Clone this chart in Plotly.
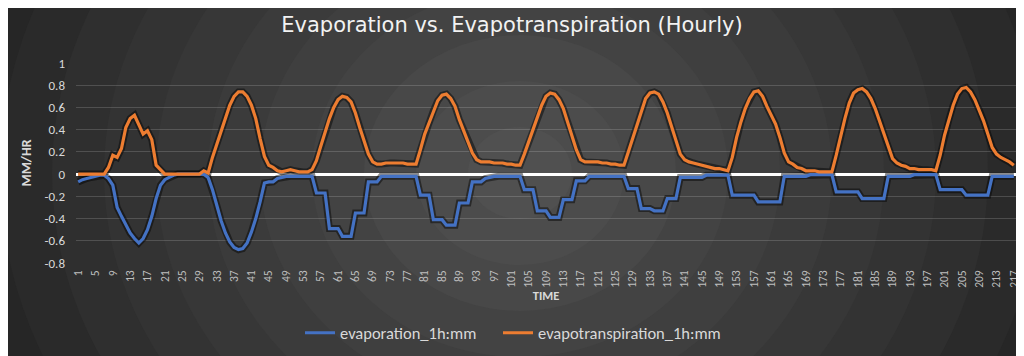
import plotly.graph_objects as go

# ---------------- data ----------------
hours = list(range(1, 218))

evaporation = [
    -0.07, -0.05, -0.04, -0.03, -0.02, -0.01, -0.01, -0.04, -0.10, -0.30,
    -0.38, -0.45, -0.53, -0.58, -0.62, -0.58, -0.50, -0.38, -0.22, -0.10,
    -0.05, -0.03, -0.01, 0, 0, 0, 0, 0, 0, 0,
    -0.03, -0.14, -0.28, -0.42, -0.53, -0.61, -0.66, -0.68, -0.67, -0.62,
    -0.52, -0.40, -0.25, -0.08, -0.07, -0.07, -0.04, -0.03, -0.02, -0.02,
    -0.02, -0.02, -0.02, -0.02, -0.02, -0.17, -0.17, -0.17, -0.49, -0.49,
    -0.49, -0.56, -0.56, -0.56, -0.35, -0.35, -0.35, -0.07, -0.07, -0.07,
    -0.02, -0.02, -0.02, -0.02, -0.02, -0.02, -0.02, -0.02, -0.02, -0.19,
    -0.19, -0.19, -0.41, -0.41, -0.41, -0.46, -0.46, -0.46, -0.26, -0.26,
    -0.26, -0.07, -0.07, -0.07, -0.04, -0.03, -0.02, -0.02, -0.02, -0.02,
    -0.02, -0.02, -0.02, -0.14, -0.14, -0.14, -0.33, -0.33, -0.33, -0.39,
    -0.39, -0.39, -0.23, -0.23, -0.23, -0.06, -0.06, -0.06, -0.02, -0.02,
    -0.02, -0.02, -0.02, -0.02, -0.02, -0.02, -0.02, -0.13, -0.13, -0.13,
    -0.31, -0.31, -0.31, -0.33, -0.33, -0.33, -0.22, -0.22, -0.22, -0.03,
    -0.03, -0.03, -0.03, -0.03, -0.03, -0.01, -0.01, -0.01, -0.01, -0.01,
    -0.01, -0.19, -0.19, -0.19, -0.19, -0.19, -0.19, -0.25, -0.25, -0.25,
    -0.25, -0.25, -0.25, -0.02, -0.02, -0.02, -0.02, -0.02, -0.02, -0.005,
    -0.005, -0.005, -0.005, -0.005, -0.005, -0.16, -0.16, -0.16, -0.16, -0.16,
    -0.16, -0.22, -0.22, -0.22, -0.22, -0.22, -0.22, -0.02, -0.02, -0.02,
    -0.02, -0.02, -0.02, -0.005, -0.005, -0.005, -0.005, -0.005, -0.005, -0.14,
    -0.14, -0.14, -0.14, -0.14, -0.14, -0.19, -0.19, -0.19, -0.19, -0.19,
    -0.19, -0.02, -0.02, -0.02, -0.02, -0.02, -0.02,
]

evapotranspiration = [
    0, 0, 0, 0, 0, 0, 0, 0.06, 0.17, 0.15,
    0.23, 0.42, 0.50, 0.53, 0.45, 0.36, 0.39, 0.31, 0.08, 0.04,
    0, 0, 0, 0, 0, 0, 0, 0, 0, 0.03,
    0.01, 0.15, 0.27, 0.40, 0.52, 0.62, 0.70, 0.74, 0.74, 0.70,
    0.62, 0.50, 0.32, 0.16, 0.08, 0.06, 0.03, 0.02, 0.03, 0.04,
    0.03, 0.02, 0.02, 0.02, 0.04, 0.12, 0.25, 0.38, 0.50, 0.60,
    0.67, 0.70, 0.69, 0.65, 0.55, 0.42, 0.29, 0.18, 0.11, 0.09,
    0.09, 0.10, 0.10, 0.10, 0.10, 0.10, 0.09, 0.09, 0.09, 0.22,
    0.36, 0.46, 0.57, 0.66, 0.71, 0.72, 0.68, 0.61, 0.49, 0.39,
    0.29, 0.19, 0.13, 0.11, 0.11, 0.11, 0.10, 0.10, 0.10, 0.09,
    0.09, 0.08, 0.08, 0.18, 0.29, 0.40, 0.51, 0.62, 0.70, 0.73,
    0.72, 0.67, 0.59, 0.47, 0.35, 0.22, 0.13, 0.11, 0.11, 0.11,
    0.11, 0.10, 0.10, 0.09, 0.09, 0.08, 0.08, 0.20, 0.32, 0.46,
    0.57, 0.68, 0.73, 0.74, 0.72, 0.65, 0.55, 0.42, 0.30, 0.18,
    0.13, 0.11, 0.10, 0.09, 0.08, 0.07, 0.06, 0.05, 0.05, 0.04,
    0.03, 0.15, 0.33, 0.47, 0.59, 0.68, 0.74, 0.75, 0.70, 0.61,
    0.53, 0.45, 0.33, 0.19, 0.11, 0.09, 0.06, 0.05, 0.03, 0.03,
    0.03, 0.02, 0.02, 0.02, 0.02, 0.17, 0.35, 0.50, 0.64, 0.73,
    0.76, 0.77, 0.74, 0.68, 0.59, 0.48, 0.36, 0.24, 0.14, 0.10,
    0.08, 0.07, 0.05, 0.05, 0.04, 0.04, 0.04, 0.04, 0.03, 0.17,
    0.35, 0.49, 0.62, 0.72, 0.77, 0.78, 0.74, 0.67, 0.58, 0.48,
    0.36, 0.24, 0.18, 0.15, 0.13, 0.11, 0.08,
]

x_tick_vals = list(range(1, 218, 4))
x_tick_text = [str(v) for v in x_tick_vals]
y_tick_vals = [1, 0.8, 0.6, 0.4, 0.2, 0, -0.2, -0.4, -0.6, -0.8]
y_tick_text = ["1", "0.8", "0.6", "0.4", "0.2", "0", "-0.2", "-0.4", "-0.6", "-0.8"]

series_names = ["evaporation_1h:mm", "evapotranspiration_1h:mm"]
series_colors = ["#4472C4", "#ED7D31"]

FONT = "Carlito, Lato, 'Open Sans', sans-serif"
TITLE_FONT = "'DejaVu Sans', 'Open Sans', sans-serif"

# ---------------- figure ----------------
W, H = 1024, 356
ML, MR, MT, MB = 68, 16, 55, 101
PW, PH = W - ML - MR, H - MT - MB

fig = go.Figure()

# soft shadows under the lines
for ys in (evaporation, evapotranspiration):
    fig.add_trace(go.Scatter(
        x=hours, y=ys, mode="lines",
        line=dict(color="rgba(0,0,0,0.45)", width=7),
        hoverinfo="skip", showlegend=False,
    ))

legend_ids = ["legend", "legend2"]
for name, ys, col, lg in zip(series_names, [evaporation, evapotranspiration], series_colors, legend_ids):
    fig.add_trace(go.Scatter(
        x=hours, y=ys, mode="lines", name=name, legend=lg,
        line=dict(color=col, width=3.2),
    ))

# radial-gradient-like background (concentric ellipses)
shapes = []
cx, cy = 512, 165
n_rings = 12
for k in range(n_rings, 0, -1):
    rx = 52 * k
    ry = 46 * k
    t = (k - 1) / (n_rings - 1)
    g = int(round(80 - t * (80 - 34)))
    shapes.append(dict(
        type="circle", xref="paper", yref="paper", layer="below",
        x0=(cx - rx - ML) / PW, x1=(cx + rx - ML) / PW,
        y0=(H - MB - (cy + ry)) / PH, y1=(H - MB - (cy - ry)) / PH,
        fillcolor=f"rgb({g},{g},{g})", line=dict(width=0),
    ))


def legend_box(x_px):
    return dict(
        orientation="h",
        x=x_px / W, xref="container", xanchor="left",
        y=1 - 325 / H, yref="container", yanchor="middle",
        font=dict(family=FONT, size=16.5, color="#d9d9d9"),
        bgcolor="rgba(0,0,0,0)",
        itemwidth=30,
    )


fig.update_layout(
    width=W, height=H,
    margin=dict(l=ML, r=MR, t=MT, b=MB),
    paper_bgcolor="#222222",
    plot_bgcolor="rgba(0,0,0,0)",
    shapes=shapes,
    font=dict(family=FONT, color="#d9d9d9"),
    title=dict(
        text="Evaporation vs. Evapotranspiration (Hourly)",
        x=504 / W, xref="container", xanchor="center",
        y=1 - 17 / H, yref="container", yanchor="middle",
        font=dict(family=TITLE_FONT, size=21, color="#f2f2f2"),
    ),
    legend=legend_box(292),
    legend2=legend_box(490),
    xaxis=dict(
        range=[0.5, 217.5],
        tickmode="array", tickvals=x_tick_vals, ticktext=x_tick_text,
        tickangle=-90,
        tickfont=dict(size=11.5, color="#bfbfbf"),
        showgrid=False, zeroline=False, showline=False,
        ticks="", ticklabelstandoff=4,
        title=dict(text="<b>TIME</b>", font=dict(size=12.5, color="#d9d9d9"), standoff=3),
    ),
    yaxis=dict(
        range=[-0.8, 1],
        tickmode="array", tickvals=y_tick_vals, ticktext=y_tick_text,
        tickfont=dict(size=13, color="#d9d9d9"),
        showgrid=True, gridcolor="rgba(255,255,255,0.16)", gridwidth=1,
        zeroline=True, zerolinecolor="#ffffff", zerolinewidth=3,
        showline=False, ticks="", ticklabelstandoff=10,
        title=dict(text="<b>MM/HR</b>", font=dict(size=14, color="#d9d9d9"), standoff=9),
    ),
    showlegend=True,
)

fig.write_html("out.html")
